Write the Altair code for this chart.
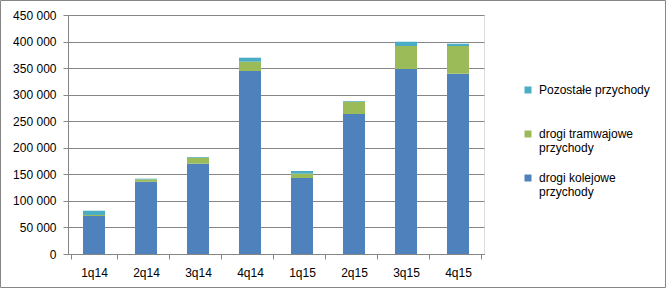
import altair as alt
import pandas as pd

quarters = ["1q14", "2q14", "3q14", "4q14", "1q15", "2q15", "3q15", "4q15"]
kolejowe = [71500, 136000, 170000, 344600, 143100, 263600, 348300, 339500]
tramwajowe = [2000, 4600, 11300, 17500, 8100, 23200, 43300, 52100]
pozostale = [8000, 1200, 1300, 7500, 5100, 1300, 8100, 4300]
series = ["drogi kolejowe przychody", "drogi tramwajowe przychody", "Pozostałe przychody"]
colors = ["#4F81BD", "#9BBB59", "#4BACC6"]

rows = []
for i, q in enumerate(quarters):
    for k, (name, vals) in enumerate(zip(series, [kolejowe, tramwajowe, pozostale])):
        rows.append({"q": q, "s": name, "v": vals[i], "o": k})
df = pd.DataFrame(rows)

FONT = "Liberation Sans"

legend_expr = (
    "datum.label == 'drogi tramwajowe przychody' ? ['drogi tramwajowe', 'przychody'] : "
    "datum.label == 'drogi kolejowe przychody' ? ['drogi kolejowe', 'przychody'] : [datum.label, ' ']"
)

bars = alt.Chart(df).mark_bar(size=22).encode(
    x=alt.X("q:N", sort=quarters, title=None,
            axis=alt.Axis(labelAngle=0, tickBand="extent", domainColor="#868686",
                          tickColor="#868686", tickSize=5, labelPadding=8,
                          labelFont=FONT, labelFontSize=12, labelColor="#000000")),
    y=alt.Y("v:Q", stack="zero", title=None,
            scale=alt.Scale(domain=[0, 450000], nice=False),
            axis=alt.Axis(values=list(range(0, 450001, 50000)),
                          labelExpr="replace(format(datum.value, ','), ',', ' ')",
                          gridColor="#868686", domainColor="#868686", tickColor="#868686",
                          tickSize=5, labelPadding=7, labelFont=FONT, labelFontSize=12,
                          labelColor="#000000")),
    color=alt.Color("s:N",
                    scale=alt.Scale(domain=series[::-1], range=colors[::-1]),
                    legend=alt.Legend(title=None, orient="none", legendX=454, legendY=69,
                                      symbolType="square", symbolSize=49, symbolStrokeWidth=0,
                                      labelFont=FONT, labelFontSize=12, labelColor="#000000",
                                      labelBaseline="middle", labelOffset=5,
                                      labelExpr=legend_expr, rowPadding=18, labelLimit=200)),
    order=alt.Order("o:Q", sort="ascending"),
)

frame_df = pd.DataFrame({"k": [0]})
frame = alt.Chart(frame_df).mark_rect(fill=None, stroke="#868686", strokeWidth=1).encode(
    x=alt.value(-67.5), x2=alt.value(597.5), y=alt.value(-14.5), y2=alt.value(272.5)
)

chart = alt.layer(bars, frame).properties(
    width=416, height=239,
    autosize=alt.AutoSizeParams(type="none"),
    padding={"left": 68, "top": 15, "right": 183, "bottom": 35},
).configure_view(stroke=None).configure(background="#ffffff")

chart.save("out.html", embed_options={"renderer": "svg", "actions": False})
